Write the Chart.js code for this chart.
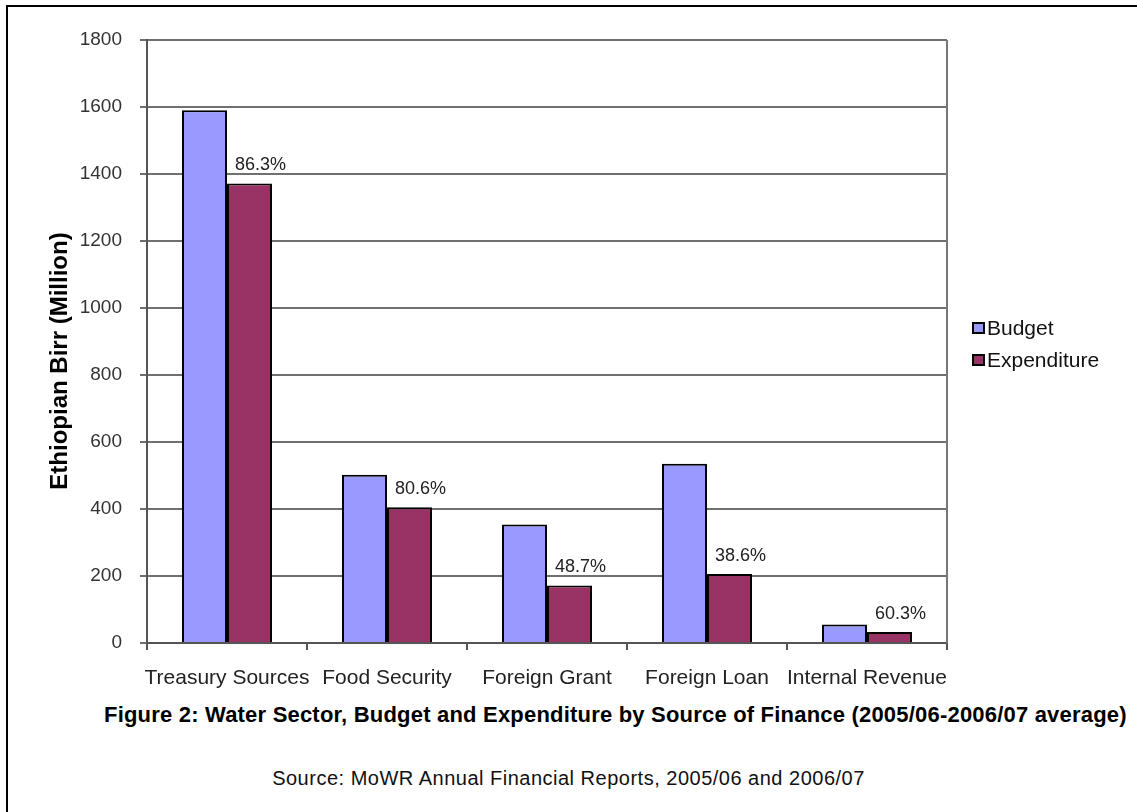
<html>
    <head>
        <style>
            body { margin: 0; background: #fff; font-family: 'Liberation Sans', Arial, sans-serif; }
            #page { position: relative; width: 1137px; height: 812px; overflow: hidden; }
            #frame { position: absolute; left: 6px; top: 5px; width: 1200px; height: 900px;
                     border-top: 2px solid #000; border-left: 2px solid #000; }
            #chart-box { position: absolute; left: 0; top: 0; width: 1137px; height: 700px; }
            .caption { position: absolute; white-space: nowrap; color: #000; }
            #fig-title { left: 104px; top: 702px; font-size: 22px; font-weight: bold; letter-spacing: 0.2px; }
            #fig-source { left: 0; width: 1137px; text-align: center; top: 767px; font-size: 20px; letter-spacing: 0.5px; color: #111; }
        </style>
    </head>
    <body>
        <div id='page'>
            <div id='frame'></div>
            <div id='chart-box'>
                <canvas id="graph" width="1137" height="700"></canvas>
            </div>
            <div id='fig-title' class='caption'>Figure 2: Water Sector, Budget and Expenditure by Source of Finance (2005/06-2006/07 average)</div>
            <div id='fig-source' class='caption'>Source: MoWR Annual Financial Reports, 2005/06 and 2006/07</div>
        </div>
        <script src="https://cdn.jsdelivr.net/npm/chart.js@4.4.0/dist/chart.umd.min.js"></script>
        <script>
            // Data (Ethiopian Birr, million)
            var categories = ['Treasury Sources', 'Food Security', 'Foreign Grant', 'Foreign Loan', 'Internal Revenue'];
            var budget = [1590, 502, 354, 535, 55];
            var expenditure = [1372, 405, 172, 206, 33];
            var pctLabels = ['86.3%', '80.6%', '48.7%', '38.6%', '60.3%'];
            var yTicks = [0, 200, 400, 600, 800, 1000, 1200, 1400, 1600, 1800];
            var yTitle = 'Ethiopian Birr (Million)';

            var FONT = "'Liberation Sans', Arial, sans-serif";

            // Percentage labels above the expenditure bars
            var pctPlugin = {
                id: 'pctLabels',
                afterDatasetsDraw: function(chart) {
                    var ctx = chart.ctx;
                    var meta = chart.getDatasetMeta(1);
                    ctx.save();
                    ctx.font = '18px ' + FONT;
                    ctx.fillStyle = '#222';
                    ctx.textAlign = 'center';
                    ctx.textBaseline = 'alphabetic';
                    meta.data.forEach(function(bar, i) {
                        ctx.fillText(pctLabels[i], bar.x + 11, bar.y - 13);
                    });
                    ctx.restore();
                }
            };

            // Right edge of the plot box, y title and the legend on the right
            var framePlugin = {
                id: 'frameAndLegend',
                afterDraw: function(chart) {
                    var ctx = chart.ctx;
                    var a = chart.chartArea;
                    ctx.save();
                    ctx.strokeStyle = '#777';
                    ctx.lineWidth = 2;
                    ctx.beginPath();
                    ctx.moveTo(a.right, a.top);
                    ctx.lineTo(a.right, a.bottom);
                    ctx.stroke();

                    // axis title (centred like Excel does, a bit below the plot middle)
                    ctx.save();
                    ctx.translate(60, 361);
                    ctx.rotate(-Math.PI / 2);
                    ctx.font = 'bold 24px ' + FONT;
                    ctx.fillStyle = '#000';
                    ctx.textAlign = 'center';
                    ctx.textBaseline = 'middle';
                    ctx.fillText(yTitle, 0, 0);
                    ctx.restore();

                    ctx.font = '21px ' + FONT;
                    ctx.textBaseline = 'middle';
                    ctx.textAlign = 'left';
                    chart.data.datasets.forEach(function(ds, i) {
                        var y = 328 + i * 32;
                        ctx.fillStyle = ds.backgroundColor;
                        ctx.fillRect(973, y - 5, 11, 10);
                        ctx.strokeStyle = '#000';
                        ctx.lineWidth = 2;
                        ctx.strokeRect(973, y - 5, 11, 10);
                        ctx.fillStyle = '#111';
                        ctx.fillText(ds.label, 987, y + 1);
                    });
                    ctx.restore();
                }
            };

            var ctx = document.getElementById('graph').getContext('2d');
            var chart = new Chart(ctx, {
                type: 'bar',
                data: {
                    labels: categories,
                    datasets: [{
                        label: 'Budget',
                        data: budget,
                        backgroundColor: '#9999FF',
                        borderColor: '#000',
                        borderWidth: 2
                    }, {
                        label: 'Expenditure',
                        data: expenditure,
                        backgroundColor: '#993366',
                        borderColor: '#000',
                        borderWidth: 2
                    }]
                },
                options: {
                    responsive: false,
                    animation: false,
                    layout: { padding: { left: 0, top: 40, right: 190, bottom: 0 } },
                    datasets: {
                        bar: { barPercentage: 1.0, categoryPercentage: 0.5625 }
                    },
                    plugins: {
                        legend: { display: false },
                        tooltip: { enabled: false }
                    },
                    scales: {
                        x: {
                            grid: { drawOnChartArea: false, drawTicks: true, tickLength: 7, color: '#555', lineWidth: 2 },
                            border: { color: '#555', width: 2 },
                            ticks: { color: '#222', font: { family: FONT, size: 21 }, padding: 16, maxRotation: 0, autoSkip: false },
                            afterFit: function(scale) { scale.height = 57; }
                        },
                        y: {
                            min: 0,
                            max: 1800,
                            afterBuildTicks: function(scale) {
                                scale.ticks = yTicks.map(function(v) { return { value: v }; });
                            },
                            grid: { color: '#707070', lineWidth: 2, tickLength: 7 },
                            border: { color: '#555', width: 2 },
                            ticks: {
                                color: '#333',
                                font: { family: FONT, size: 19 },
                                padding: 18,
                                callback: function(v) { return String(v); }
                            },
                            afterFit: function(scale) { scale.width = 147; }
                        }
                    }
                },
                plugins: [pctPlugin, framePlugin]
            });
        </script>
    </body>
</html>
